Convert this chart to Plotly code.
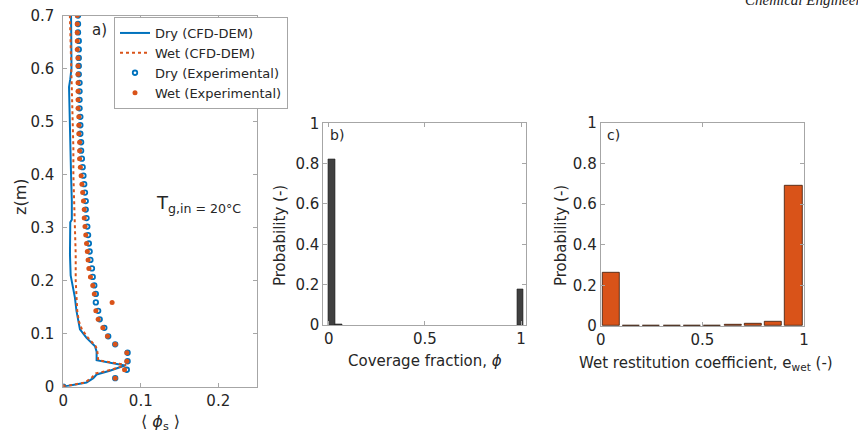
import plotly.graph_objects as go

# ---------------- data ----------------
# Panel a: experimental profiles (z in m, <phi_s>)
z_exp = [0.000, 0.016, 0.032, 0.048, 0.064, 0.080, 0.095, 0.111, 0.127, 0.143,
         0.159, 0.175, 0.191, 0.207, 0.223, 0.239, 0.255, 0.270, 0.286, 0.302,
         0.318, 0.334, 0.350, 0.366, 0.382, 0.398, 0.414, 0.430, 0.445, 0.461,
         0.477, 0.493, 0.509, 0.525, 0.541, 0.557, 0.573, 0.589, 0.605, 0.620,
         0.636, 0.652, 0.668, 0.684, 0.700]
dry_exp = [0.000, 0.067, 0.082, 0.083, 0.083, 0.067, 0.058, 0.053, 0.047, 0.045,
           0.042, 0.042, 0.040, 0.038, 0.037, 0.035, 0.034, 0.033, 0.032, 0.031,
           0.030, 0.029, 0.029, 0.028, 0.027, 0.026, 0.025, 0.024, 0.023, 0.023,
           0.022, 0.022, 0.022, 0.021, 0.021, 0.021, 0.021, 0.020, 0.020, 0.020,
           0.020, 0.020, 0.019, 0.019, 0.019]
wet_exp = [0.000, 0.067, 0.079, 0.082, 0.082, 0.067, 0.057, 0.051, 0.045, 0.042,
           0.063, 0.040, 0.038, 0.035, 0.033, 0.032, 0.031, 0.030, 0.029, 0.028,
           0.027, 0.027, 0.026, 0.025, 0.024, 0.023, 0.022, 0.021, 0.021, 0.021,
           0.020, 0.020, 0.020, 0.019, 0.019, 0.019, 0.019, 0.019, 0.019, 0.019,
           0.018, 0.018, 0.018, 0.018, 0.018]

# Panel a: CFD-DEM profiles
z_dry_cfd = [0.000, 0.008, 0.016, 0.023, 0.030, 0.040, 0.050, 0.066, 0.076, 0.092,
             0.108, 0.124, 0.143, 0.168, 0.183, 0.200, 0.210, 0.250, 0.300, 0.310,
             0.315, 0.350, 0.400, 0.450, 0.500, 0.550, 0.565, 0.580, 0.600, 0.620,
             0.650, 0.700]
x_dry_cfd = [0.000, 0.030, 0.0387, 0.043, 0.060, 0.0796, 0.043, 0.043, 0.041, 0.030,
             0.0215, 0.019, 0.017, 0.015, 0.0129, 0.011, 0.0095, 0.0086, 0.0086, 0.009,
             0.011, 0.011, 0.010, 0.0095, 0.009, 0.008, 0.0074, 0.009, 0.0105, 0.0105,
             0.010, 0.010]
z_wet_cfd = [0.000, 0.008, 0.016, 0.025, 0.032, 0.041, 0.050, 0.066, 0.076, 0.092,
             0.108, 0.124, 0.143, 0.170, 0.200, 0.250, 0.300, 0.350, 0.400, 0.450,
             0.500, 0.550, 0.600, 0.650, 0.700]
x_wet_cfd = [0.000, 0.028, 0.036, 0.042, 0.062, 0.081, 0.045, 0.044, 0.042, 0.032,
             0.024, 0.020, 0.018, 0.017, 0.016, 0.016, 0.015, 0.014, 0.013, 0.013,
             0.012, 0.011, 0.010, 0.009, 0.0085]

# Panel b: coverage fraction histogram
cov_bins = [0.017, 0.052, 0.996]
cov_prob = [0.82, 0.004, 0.175]

# Panel c: wet restitution coefficient histogram
ewet_bins = [0.05, 0.15, 0.25, 0.35, 0.45, 0.55, 0.65, 0.75, 0.85, 0.95]
ewet_prob = [0.262, 0.0, 0.0, 0.0, 0.002, 0.002, 0.005, 0.009, 0.022, 0.69]

# tick values
a_xticks = [0, 0.1, 0.2]
a_yticks = [0, 0.1, 0.2, 0.3, 0.4, 0.5, 0.6, 0.7]
p_ticks = [0, 0.2, 0.4, 0.6, 0.8, 1]
h_xticks = [0, 0.5, 1]

BLUE = "#0072BD"
ORANGE = "#D95319"
FONT = "DejaVu Sans"
TXT = "#262626"
AXC = "#a6a6a6"
W, H = 858, 440

def px_x(p):
    return p / W

def px_y(p):
    return 1 - p / H

fig = go.Figure()

fig.add_trace(go.Scatter(x=x_dry_cfd, y=z_dry_cfd, mode="lines", name="Dry (CFD-DEM)",
                         line=dict(color=BLUE, width=2), xaxis="x", yaxis="y"))
fig.add_trace(go.Scatter(x=x_wet_cfd, y=z_wet_cfd, mode="lines", name="Wet (CFD-DEM)",
                         line=dict(color=ORANGE, width=2, dash="dot"), xaxis="x", yaxis="y"))
fig.add_trace(go.Scatter(x=dry_exp, y=z_exp, mode="markers", name="Dry (Experimental)",
                         marker=dict(symbol="circle-open", color=BLUE, size=4.5,
                                     line=dict(width=1.8, color=BLUE)),
                         xaxis="x", yaxis="y"))
fig.add_trace(go.Scatter(x=wet_exp, y=z_exp, mode="markers", name="Wet (Experimental)",
                         marker=dict(symbol="circle", color=ORANGE, size=5),
                         xaxis="x", yaxis="y"))

fig.add_trace(go.Bar(x=cov_bins, y=cov_prob, width=0.036, showlegend=False,
                     marker=dict(color="#404040", line=dict(color="#222222", width=0.6)),
                     xaxis="x2", yaxis="y2"))
fig.add_trace(go.Bar(x=ewet_bins, y=ewet_prob, width=0.085, showlegend=False,
                     marker=dict(color=ORANGE, line=dict(color="#3a1a0a", width=0.8)),
                     xaxis="x3", yaxis="y3"))

ax_common = dict(showgrid=False, zeroline=False, showline=True, linecolor=AXC, linewidth=1,
                 mirror="ticks", ticks="inside", ticklen=4, tickcolor=AXC, automargin=False,
                 tickfont=dict(family=FONT, size=15, color=TXT))

fig.update_layout(
    template="none",
    width=W, height=H, margin=dict(l=0, r=0, t=0, b=0, pad=0, autoexpand=False),
    paper_bgcolor="white", plot_bgcolor="white",
    font=dict(family=FONT, color=TXT),
    bargap=0,
    xaxis=dict(domain=[px_x(63.3), px_x(257)], range=[0, 0.25], tickvals=a_xticks,
               ticktext=["0", "0.1", "0.2"], anchor="y", **ax_common),
    yaxis=dict(domain=[px_y(386.7), px_y(15.5)], range=[0, 0.7], tickvals=a_yticks,
               ticktext=["0", "0.1", "0.2", "0.3", "0.4", "0.5", "0.6", "0.7"],
               anchor="x", ticklabelstandoff=5, **ax_common),
    xaxis2=dict(domain=[px_x(323.3), px_x(525.7)], range=[-0.029, 1.024], tickvals=h_xticks,
                ticktext=["0", "0.5", "1"], anchor="y2", **ax_common),
    yaxis2=dict(domain=[px_y(325), px_y(123.3)], range=[0, 1], tickvals=p_ticks,
                ticktext=["0", "0.2", "0.4", "0.6", "0.8", "1"], anchor="x2", **ax_common),
    xaxis3=dict(domain=[px_x(600.7), px_x(804)], range=[0, 1], tickvals=h_xticks,
                ticktext=["0", "0.5", "1"], anchor="y3", **ax_common),
    yaxis3=dict(domain=[px_y(326), px_y(122.7)], range=[0, 1], tickvals=p_ticks,
                ticktext=["0", "0.2", "0.4", "0.6", "0.8", "1"], anchor="x3", **ax_common),
    legend=dict(x=px_x(114), y=px_y(17), xanchor="left", yanchor="top",
                bgcolor="white", bordercolor=AXC, borderwidth=1,
                font=dict(family=FONT, size=13, color=TXT), tracegroupgap=0,
                itemwidth=30),
    showlegend=True,
)

def ann(text, x, y, size=15, xanchor="center", yanchor="middle", angle=0, family=FONT, color=TXT):
    fig.add_annotation(text=text, x=px_x(x), y=px_y(y), xref="paper", yref="paper",
                       showarrow=False, xanchor=xanchor, yanchor=yanchor, textangle=angle,
                       font=dict(family=family, size=size, color=color))

# axis titles
ann("z(m)", 20, 197, size=16, angle=-90)
ann("⟨ <i>ϕ</i><sub>s</sub> ⟩", 160, 422, size=16)
ann("Probability (-)", 280, 236, size=15, angle=-90)
ann("Coverage fraction, <i>ϕ</i>", 425, 361, size=15)
ann("Probability (-)", 561, 236, size=15, angle=-90)
ann("Wet restitution coefficient, e<sub>wet</sub> (-)", 706, 363, size=15)

# panel labels
ann("a)", 90, 30, size=15, xanchor="left")
ann("b)", 328, 135, size=14, xanchor="left")
ann("c)", 605, 135, size=14, xanchor="left")

# condition
ann("T<sub>g,in = 20°C</sub>", 154, 204, size=18, xanchor="left")

# clipped page header
ann("<i>Chemical Engineering</i>", 743, 10, size=15, xanchor="left", yanchor="bottom",
    family="Liberation Serif", color="#222222")

fig.write_html("out.html", config={"displayModeBar": False},
               post_script="document.body.style.margin='0px';document.body.style.overflow='hidden';")
